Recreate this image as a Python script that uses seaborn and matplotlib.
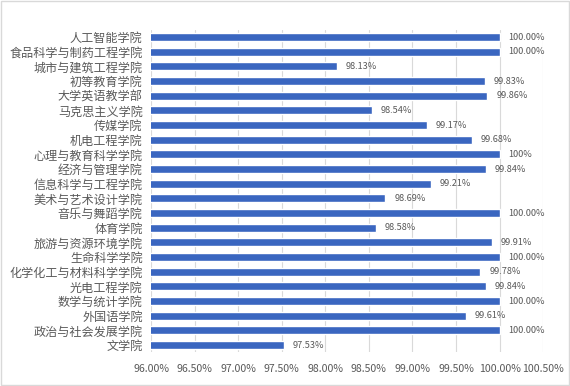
import numpy as np
import matplotlib
matplotlib.use('Agg')
import matplotlib.pyplot as plt
import pandas as pd
import seaborn as sns

# ============ data ============
colleges = ['人工智能学院', '食品科学与制药工程学院', '城市与建筑工程学院', '初等教育学院',
            '大学英语教学部', '马克思主义学院', '传媒学院', '机电工程学院',
            '心理与教育科学学院', '经济与管理学院', '信息科学与工程学院', '美术与艺术设计学院',
            '音乐与舞蹈学院', '体育学院', '旅游与资源环境学院', '生命科学学院',
            '化学化工与材料科学学院', '光电工程学院', '数学与统计学院', '外国语学院',
            '政治与社会发展学院', '文学院']
rates = [100.00, 100.00, 98.13, 99.83, 99.86, 98.54, 99.17, 99.68, 100.00, 99.84, 99.21, 98.69,
         100.00, 98.58, 99.91, 100.00, 99.78, 99.84, 100.00, 99.61, 100.00, 97.53]
rate_labels = ['100.00%', '100.00%', '98.13%', '99.83%', '99.86%', '98.54%', '99.17%', '99.68%',
               '100%', '99.84%', '99.21%', '98.69%', '100.00%', '98.58%', '99.91%', '100.00%',
               '99.78%', '99.84%', '100.00%', '99.61%', '100.00%', '97.53%']
xticks = [96.0, 96.5, 97.0, 97.5, 98.0, 98.5, 99.0, 99.5, 100.0, 100.5]

df = pd.DataFrame({'college': colleges, 'rate': rates})

sns.set_style('white')
plt.rcParams['font.family'] = ['Noto Sans CJK SC', 'DejaVu Sans']

fig = plt.figure(figsize=(5.7, 3.86), dpi=100)
ax = fig.add_axes([0.265, 0.087, 0.688, 0.836])

sns.barplot(data=df, x='rate', y='college', orient='h', color='#3a66c0',
            width=0.55, ax=ax, saturation=1)

ax.set_xlim(96.0, 100.5)
ax.set_xticks(xticks)
ax.set_xticklabels([f'{t:.2f}%' for t in xticks], fontsize=7.6, color='#595959')
ax.tick_params(axis='y', labelsize=8.7, labelcolor='#595959', length=0, pad=6)
ax.tick_params(axis='x', length=0, pad=8)
ax.set_xlabel('')
ax.set_ylabel('')
ax.grid(axis='x', color='#d9d9d9', linewidth=0.8)
ax.set_axisbelow(True)
for s in ax.spines.values():
    s.set_visible(False)

for i, (v, lab) in enumerate(zip(rates, rate_labels)):
    ax.text(v + 0.1, i, lab, va='center', ha='left', fontsize=6.6, color='#595959')

# light border round the chart
fig.patches.append(plt.Rectangle((0.002, 0.003), 0.996, 0.994, transform=fig.transFigure,
                                 fill=False, edgecolor='#d9d9d9', linewidth=1))

fig.savefig('out.png', dpi=100)
